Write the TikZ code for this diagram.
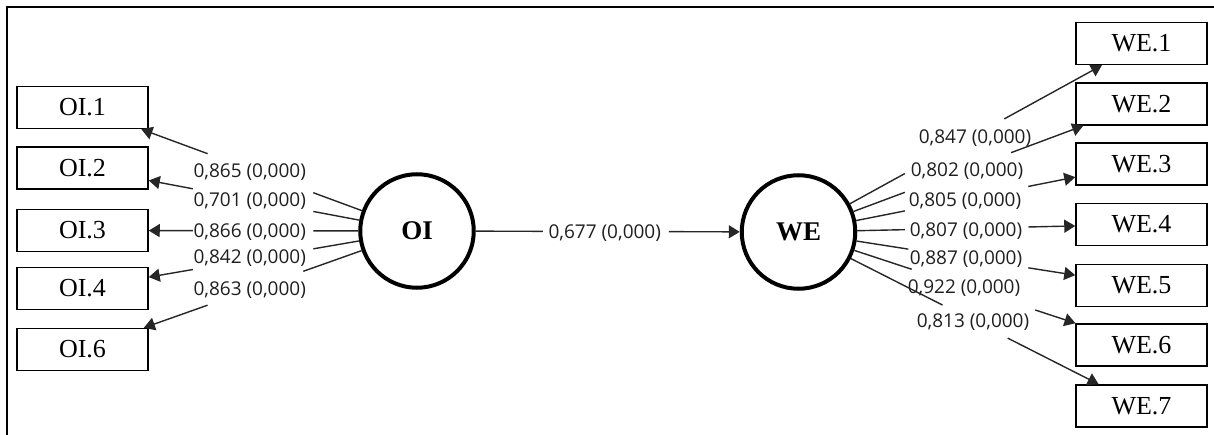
\documentclass[tikz,border=0pt]{standalone}
\usepackage{fontspec}
\setmainfont{Liberation Serif}
\newfontfamily\labelfont{Open Sans}
\usetikzlibrary{arrows.meta,calc}

\tikzset{
  indicator/.style={draw, line width=1.5pt, minimum width=131pt, minimum height=42pt,
    inner sep=0pt, font=\fontsize{26}{26}\selectfont},
  construct/.style={circle, draw, line width=4pt, minimum size=113.5pt, inner sep=0pt,
    font=\fontsize{27}{27}\selectfont\bfseries},
  link/.style={line width=1.4pt, draw=black!85},
  linkarrow/.style={link, -{Triangle[length=11pt,width=13pt]}},
  loading/.style={font=\labelfont\fontsize{19}{19}\selectfont, text=black!88, inner sep=0pt},
  frameline/.style={line width=2pt},
}

% path from #1 to #2, interrupted between fractions #3 and #4 of the
% centre-to-centre line, with the value #5 set at the middle (options #6)
\newcommand\loadingedge[6]{%
  \coordinate (ga) at ($(#1.center)!#3!(#2.center)$);
  \coordinate (gb) at ($(#1.center)!#4!(#2.center)$);
  \draw[link] (#1) -- (ga);
  \draw[linkarrow] (gb) -- (#2);
  \node[loading,#6] at ($(#1.center)!0.5!(#2.center)$) {#5};
}

\begin{document}
\begin{tikzpicture}[x=1pt,y=-1pt]
\useasboundingbox (0,0) rectangle (1214,435);

% outer frame (left and top rules)
\coordinate (fbl) at (7,435);
\coordinate (ftl) at (7,7);
\coordinate (ftr) at (1214,7);
\draw[frameline] (fbl) -- (ftl) -- (ftr);

% constructs
\node[construct] (OI) at (417,231) {OI};
\node[construct] (WE) at (798.5,232) {WE};

% indicators of OI
\node[indicator] (OI1) at (82.5,107.5) {OI.1};
\node[indicator] (OI2) at (82.5,168)   {OI.2};
\node[indicator] (OI3) at (82.5,230.5) {OI.3};
\node[indicator] (OI4) at (82.5,288.5) {OI.4};
\node[indicator] (OI6) at (82.5,349.5) {OI.6};

% indicators of WE
\node[indicator] (WE1) at (1141.5,43.5)  {WE.1};
\node[indicator] (WE2) at (1141.5,104)   {WE.2};
\node[indicator] (WE3) at (1141.5,164)   {WE.3};
\node[indicator] (WE4) at (1141.5,224.5) {WE.4};
\node[indicator] (WE5) at (1141.5,285.5) {WE.5};
\node[indicator] (WE6) at (1141.5,345)   {WE.6};
\node[indicator] (WE7) at (1141.5,406)   {WE.7};

% outer loadings of OI
\loadingedge{OI}{OI1}{0.31}{0.626}{0,865 (0,000)}{yshift=-3pt}
\loadingedge{OI}{OI2}{0.31}{0.67}{0,701 (0,000)}{yshift=-1.5pt}
\loadingedge{OI}{OI3}{0.31}{0.67}{0,866 (0,000)}{yshift=-1pt}
\loadingedge{OI}{OI4}{0.31}{0.67}{0,842 (0,000)}{yshift=1.5pt}
\loadingedge{OI}{OI6}{0.34}{0.626}{0,863 (0,000)}{}

% outer loadings of WE
\loadingedge{WE}{WE1}{0.31}{0.60}{0,847 (0,000)}{xshift=5pt}
\loadingedge{WE}{WE2}{0.31}{0.62}{0,802 (0,000)}{yshift=-3pt,xshift=-3pt}
\loadingedge{WE}{WE3}{0.31}{0.67}{0,805 (0,000)}{yshift=-3pt,xshift=-5pt}
\loadingedge{WE}{WE4}{0.31}{0.67}{0,807 (0,000)}{yshift=-2.5pt,xshift=-4pt}
\loadingedge{WE}{WE5}{0.32}{0.67}{0,887 (0,000)}{xshift=-4pt}
\loadingedge{WE}{WE6}{0.33}{0.69}{0,922 (0,000)}{xshift=-6pt}
\loadingedge{WE}{WE7}{0.42}{0.61}{0,813 (0,000)}{xshift=3pt,yshift=-3pt}

% path coefficient OI -> WE
\loadingedge{OI}{WE}{0.33}{0.66}{0,677 (0,000)}{xshift=-3pt,yshift=-2pt}
\end{tikzpicture}
\end{document}
